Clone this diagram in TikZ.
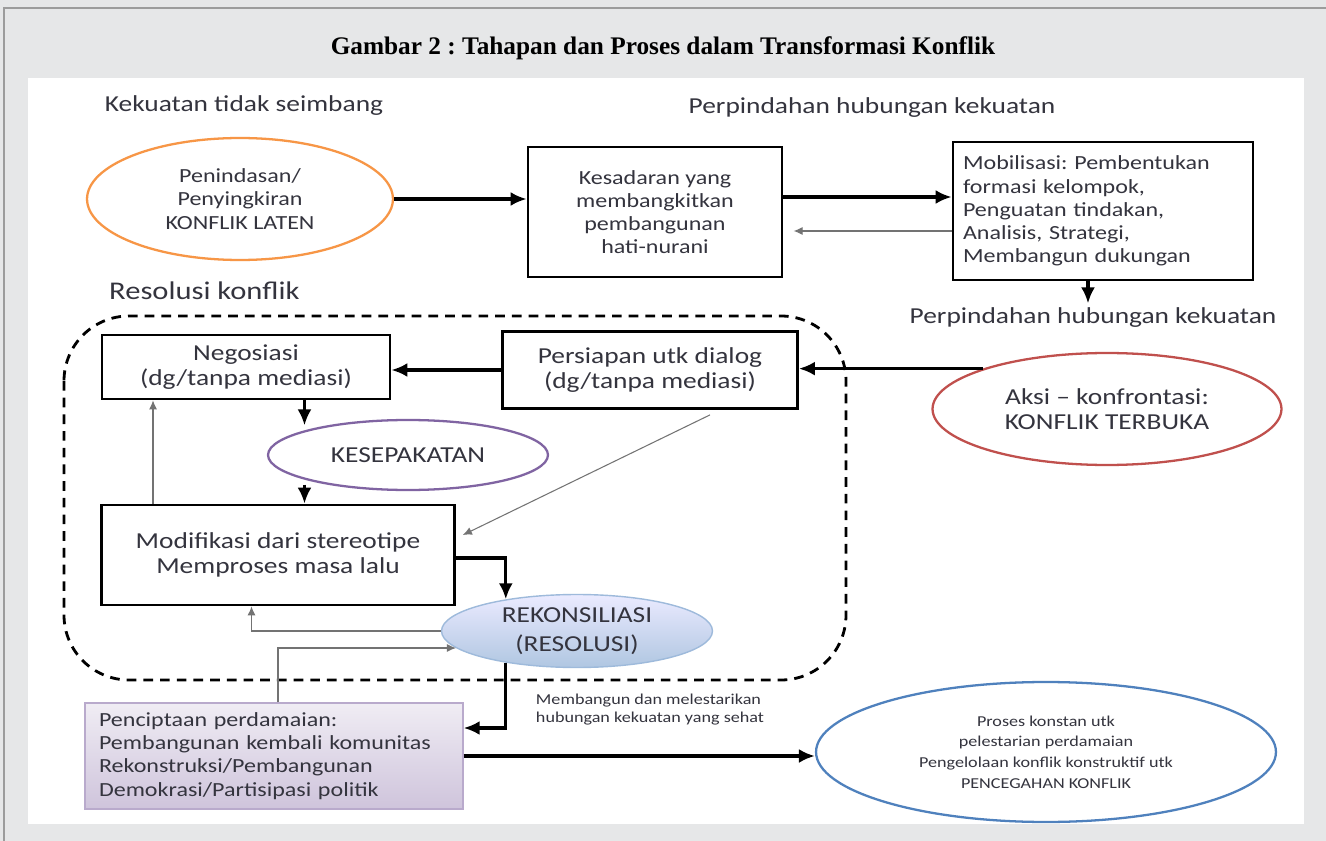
\documentclass[tikz,border=0pt]{standalone}
\usepackage{fontspec}
\setmainfont{Liberation Serif}
\newfontfamily\diagfont[FakeStretch=1.2]{Carlito}
\usepackage{xcolor}
\usetikzlibrary{positioning}
\usetikzlibrary{shapes.geometric}
\usetikzlibrary{arrows.meta}
\frenchspacing

\definecolor{panelgray}{HTML}{E6E7E8}
\definecolor{framegray}{HTML}{9C9C9C}
\definecolor{inkgray}{HTML}{34343E}
\definecolor{latentorange}{HTML}{F79646}
\definecolor{dealpurple}{HTML}{8064A2}
\definecolor{openred}{HTML}{C0504D}
\definecolor{peaceblue}{HTML}{4F81BD}

\newcommand{\bigtxt}{\diagfont\fontsize{13}{14.4}\selectfont}
\newcommand{\midtxt}{\diagfont\fontsize{11.4}{13.2}\selectfont}
\newcommand{\smalltxt}{\diagfont\fontsize{8.6}{10.2}\selectfont}

\begin{document}
\begin{tikzpicture}[
  x=0.02cm, y=-0.02cm,
  bigtext/.style={font=\bigtxt, text=inkgray},
  midtext/.style={font=\midtxt, text=inkgray},
  smalltext/.style={font=\smalltxt, text=inkgray},
  box/.style={draw, line width=1.6pt, align=center, inner sep=3pt},
  oval/.style={ellipse, draw, line width=1.3pt, align=center, inner sep=0pt},
  bigarrow/.style={-{Latex[length=3.2mm,width=2.8mm]}, line width=1.8pt},
  thinarrow/.style={-{Latex[length=1.8mm,width=1.6mm]}, line width=0.6pt, black!55},
  dashedframe/.style={draw, line width=1.6pt, dash pattern=on 5.5pt off 4pt, rounded corners=1.3cm}
]
\useasboundingbox (0,0) rectangle (1326,841);

% Page frame and white panel
\fill[panelgray] (0,0) rectangle (1326,841);
\draw[framegray, line width=1.2pt] (4,841) -- (4,8) -- (1326,8);
\fill[white] (28,78) rectangle (1304,824);

% Title
\node[font=\bfseries\fontsize{14.4}{16}\selectfont] (title) at (663,48) {Gambar 2 : Tahapan dan Proses dalam Transformasi Konflik};

% Top row: latent conflict and mobilisation
\node[bigtext] (kekuatan) at (244,106) {Kekuatan tidak seimbang};
\node[bigtext] (perpindahan) at (872,108) {Perpindahan hubungan kekuatan};

\node[oval, midtext, draw=latentorange, minimum width=6.12cm, minimum height=2.44cm] (latent) at (240,199)
  {Penindasan/\\Penyingkiran\\KONFLIK LATEN};
\node[box, midtext, minimum width=5.08cm, minimum height=2.6cm] (kesadaran) at (655,212)
  {Kesadaran yang\\membangkitkan\\pembangunan\\hati-nurani};
\node[box, midtext, align=left, text width=5.6cm, minimum width=6.0cm, minimum height=2.76cm] (mobilisasi) at (1103,211)
  {Mobilisasi: Pembentukan\\formasi kelompok,\\Penguatan tindakan,\\Analisis, Strategi,\\Membangun dukungan};
\node[bigtext] (perpindahanb) at (1093,318) {Perpindahan hubungan kekuatan};

\draw[bigarrow] (latent.east) -- (latent.east -| kesadaran.west);
\draw[bigarrow] ([yshift=0.3cm]kesadaran.east) -- ([yshift=0.3cm]kesadaran.east -| mobilisasi.west);
\draw[thinarrow] ([yshift=-0.4cm]mobilisasi.west) -- +(-158,0);
\draw[bigarrow] ([xshift=-0.3cm]mobilisasi.south) -- +(0,22);

% Resolution block (dashed)
\node[font=\diagfont\fontsize{14.5}{16}\selectfont, text=inkgray, anchor=west] (resolusi) at (103,291) {Resolusi konflik};
\draw[dashedframe] (64,316) rectangle (846,680);

\node[box, bigtext, minimum width=5.76cm, minimum height=1.28cm] (negosiasi) at (246,367)
  {Negosiasi\\(dg/tanpa mediasi)};
\node[box, bigtext, minimum width=5.9cm, minimum height=1.54cm] (persiapan) at (650,370)
  {Persiapan utk dialog\\(dg/tanpa mediasi)};
\node[oval, bigtext, draw=dealpurple, minimum width=5.6cm, minimum height=1.4cm] (kesepakatan) at (408,455) {KESEPAKATAN};
\node[box, bigtext, minimum width=7.06cm, minimum height=2.0cm] (modifikasi) at (278,555)
  {Modifikasi dari stereotipe\\Memproses masa lalu};
\node[oval, bigtext, draw=peaceblue!55, line width=0.8pt, top color=blue!8, bottom color=peaceblue!45,
  minimum width=5.42cm, minimum height=1.46cm] (rekonsiliasi) at (577,631) {REKONSILIASI\\[2pt](RESOLUSI)};

% Open conflict
\node[oval, bigtext, draw=openred, minimum width=6.98cm, minimum height=2.24cm] (aksi) at (1107,409)
  {Aksi – konfrontasi:\\KONFLIK TERBUKA};

\draw[bigarrow] (aksi.162) -- (aksi.162 -| persiapan.east);
\draw[bigarrow] (persiapan.west) -- (persiapan.west -| negosiasi.east);
\draw[bigarrow] ([xshift=0.53cm]modifikasi.north |- negosiasi.south) -- +(0,25);
\draw[bigarrow] ([xshift=0.53cm,yshift=0.38cm]modifikasi.north) -- ([xshift=0.53cm]modifikasi.north);
\draw[thinarrow] ([xshift=-2.5cm]modifikasi.north) -- ([xshift=-2.5cm]modifikasi.north |- negosiasi.south);
\draw[thinarrow] ([xshift=1.2cm,yshift=-0.1cm]persiapan.south) -- ([xshift=0.14cm,yshift=0.4cm]modifikasi.east);
\draw[bigarrow] ([yshift=-0.06cm]modifikasi.east) -| (rekonsiliasi.156);
\draw[thinarrow] (rekonsiliasi.west) -| ([xshift=-0.53cm]modifikasi.south);

% Peacebuilding and prevention
\node[box, midtext, draw=dealpurple!55, line width=0.8pt, top color=dealpurple!12, bottom color=dealpurple!38,
  align=left, text width=7.0cm, minimum width=7.56cm, minimum height=2.12cm] (penciptaan) at (274,756)
  {Penciptaan perdamaian:\\Pembangunan kembali komunitas\\Rekonstruksi/Pembangunan\\Demokrasi/Partisipasi politik};
\node[smalltext, align=left] (membangun) at (650,710) {Membangun dan melestarikan\\hubungan kekuatan yang sehat};
\node[oval, smalltext, draw=peaceblue, minimum width=9.2cm, minimum height=2.8cm] (pencegahan) at (1046,752)
  {Proses konstan utk\\[1.5pt]pelestarian perdamaian\\[1.5pt]Pengelolaan konflik konstruktif utk\\[1.5pt]PENCEGAHAN KONFLIK};

\draw[thinarrow] ([xshift=0.08cm]penciptaan.north) |- (rekonsiliasi.188);
\draw[bigarrow] (rekonsiliasi.204) |- ([yshift=0.56cm]penciptaan.east);
\draw[bigarrow] (penciptaan.east) -- (penciptaan.east -| pencegahan.west);

\end{tikzpicture}
\end{document}
